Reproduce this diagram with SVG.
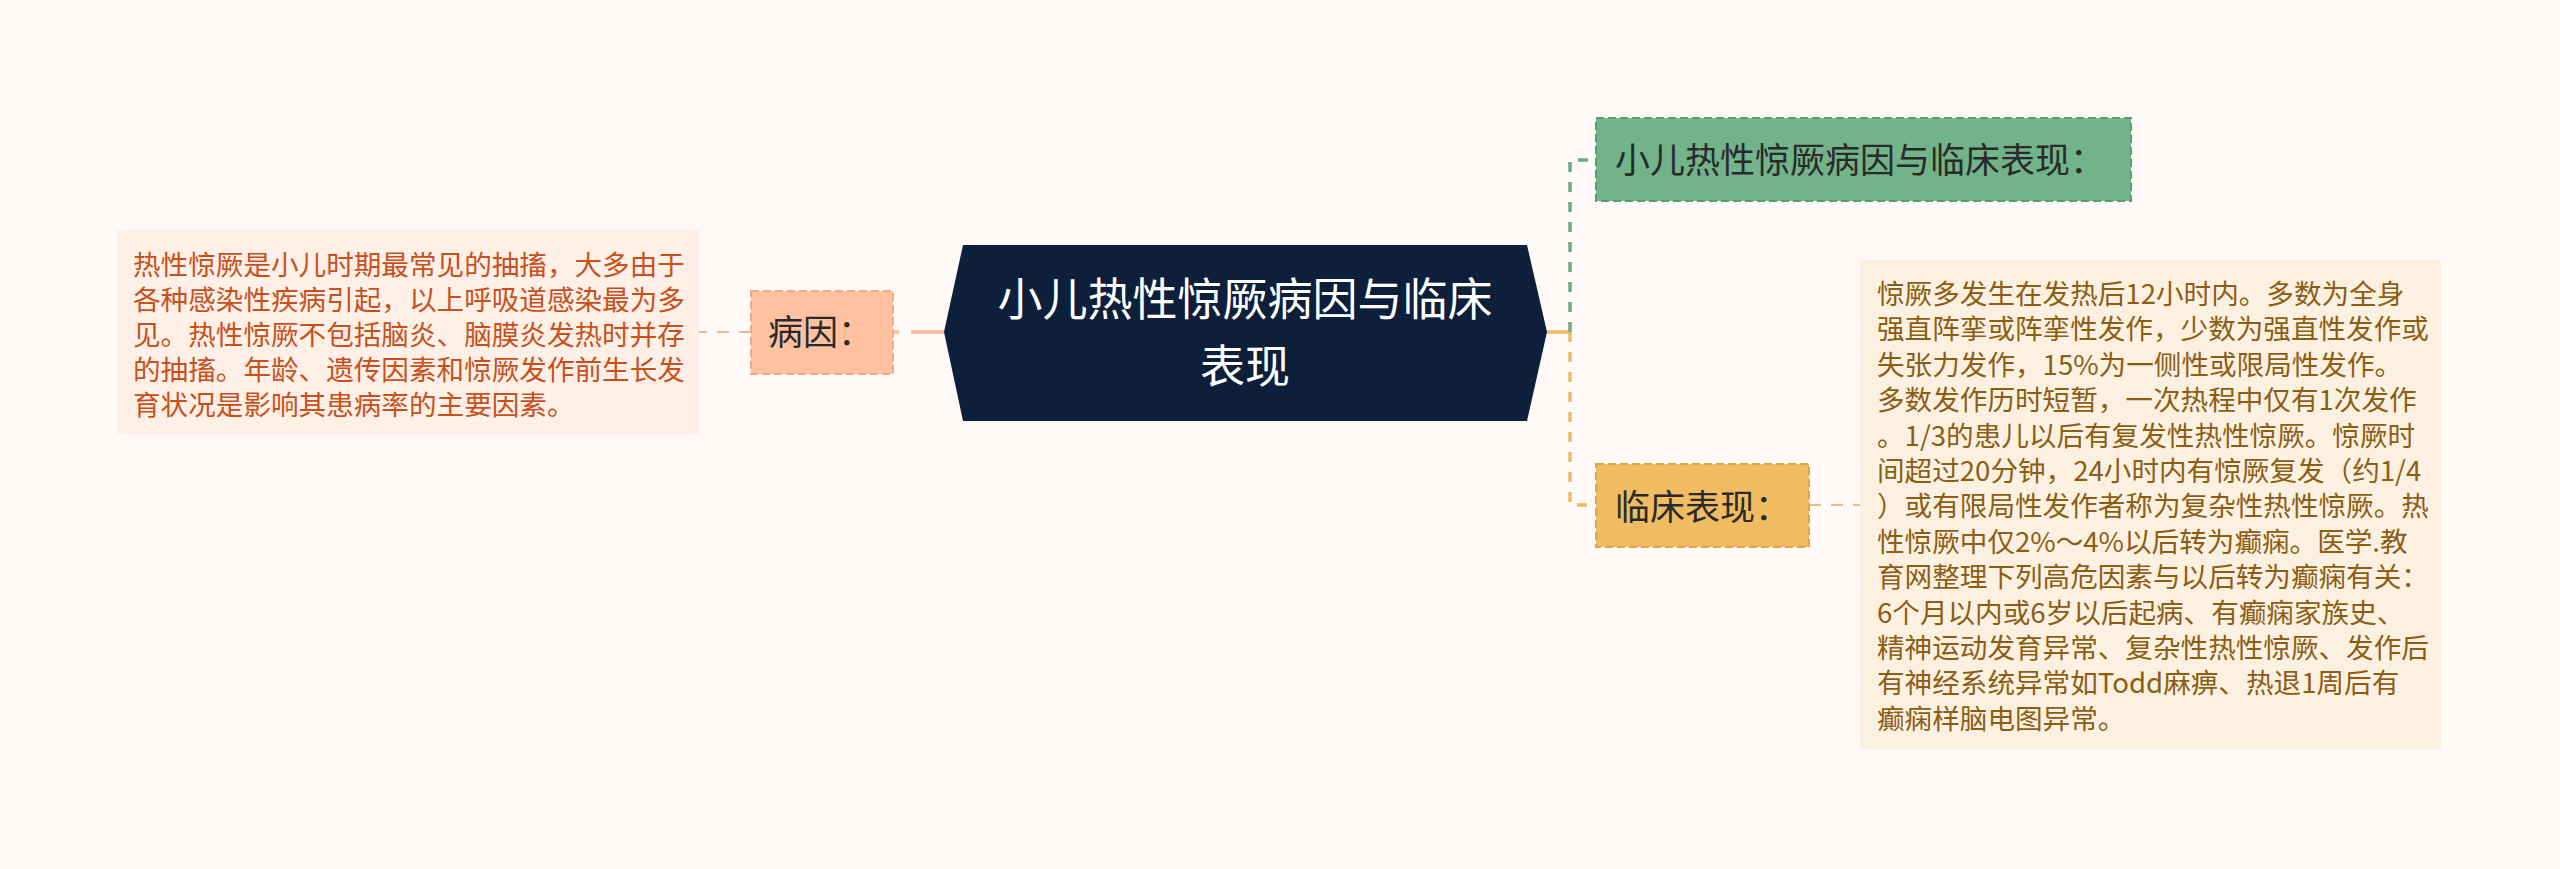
<svg xmlns="http://www.w3.org/2000/svg" width="2560" height="869" viewBox="0 0 2560 869">
<style>
text{font-family:"Noto Sans CJK SC","Noto Sans",sans-serif;}
.t1{font-size:35px;fill:#2a2a2a;}
.tc{font-size:45px;fill:#ffffff;text-anchor:middle;}
.tl{font-size:27.6px;fill:#c9501c;}
.tr{font-size:27.6px;fill:#8c5d13;}
.conn{fill:none;}
</style>
<rect x="0" y="0" width="2560" height="869" fill="#fffaf8"/>
<g id="connectors">
  <path class="conn" d="M944,332 H893" stroke="#f6bb9b" stroke-width="3.5" stroke-dasharray="33 12"/>
  <path class="conn" d="M751,332 H699" stroke="#f2b89e" stroke-width="2" stroke-dasharray="12 10"/>
  <path class="conn" d="M1545,332 H1570" stroke="#efbb62" stroke-width="3.5"/>
  <path class="conn" d="M1570,332 V160 H1596" stroke="#6aab82" stroke-width="3.5" stroke-dasharray="10 10"/>
  <path class="conn" d="M1570,332 V505 H1596" stroke="#efbb62" stroke-width="3.5" stroke-dasharray="10 10"/>
  <path class="conn" d="M1809,505 H1860" stroke="#e6be80" stroke-width="2" stroke-dasharray="12 10"/>
</g>
<g id="center">
  <polygon points="944,332 963,245 1527,245 1547,332 1527,421 963,421" fill="#0d1f3a"/>
  <text class="tc" x="1245" y="316">小儿热性惊厥病因与临床</text>
  <text class="tc" x="1245" y="383">表现</text>
</g>
<g id="cause">
  <rect x="751" y="291" width="142" height="83" fill="#ffc1a0" stroke="#f3a985" stroke-width="2" stroke-dasharray="8 4"/>
  <text class="t1" x="768" y="345">病因：</text>
</g>
<g id="cause-detail">
  <rect x="117" y="230" width="582" height="204" fill="#fef0e7"/>
  <text class="tl" x="133" y="275">热性惊厥是小儿时期最常见的抽搐，大多由于</text>
  <text class="tl" x="133" y="310">各种感染性疾病引起，以上呼吸道感染最为多</text>
  <text class="tl" x="133" y="345">见。热性惊厥不包括脑炎、脑膜炎发热时并存</text>
  <text class="tl" x="133" y="380">的抽搐。年龄、遗传因素和惊厥发作前生长发</text>
  <text class="tl" x="133" y="415">育状况是影响其患病率的主要因素。</text>
</g>
<g id="title-node">
  <rect x="1596" y="118" width="535" height="83" fill="#72b38a" stroke="#5c9c74" stroke-width="2" stroke-dasharray="8 4"/>
  <text class="t1" x="1615" y="173">小儿热性惊厥病因与临床表现：</text>
</g>
<g id="clinical">
  <rect x="1596" y="464" width="213" height="83" fill="#efbc62" stroke="#dea64c" stroke-width="2" stroke-dasharray="8 4"/>
  <text class="t1" x="1615" y="520">临床表现：</text>
</g>
<g id="clinical-detail">
  <rect x="1860" y="260" width="581" height="490" fill="#fcf1e1"/>
  <text class="tr" x="1877" y="304">惊厥多发生在发热后12小时内。多数为全身</text>
  <text class="tr" x="1877" y="339.4">强直阵挛或阵挛性发作，少数为强直性发作或</text>
  <text class="tr" x="1877" y="374.8">失张力发作，15%为一侧性或限局性发作。</text>
  <text class="tr" x="1877" y="410.2">多数发作历时短暂，一次热程中仅有1次发作</text>
  <text class="tr" x="1877" y="445.6">。1/3的患儿以后有复发性热性惊厥。惊厥时</text>
  <text class="tr" x="1877" y="481">间超过20分钟，24小时内有惊厥复发（约1/4</text>
  <text class="tr" x="1877" y="516.4">）或有限局性发作者称为复杂性热性惊厥。热</text>
  <text class="tr" x="1877" y="551.8">性惊厥中仅2%～4%以后转为癫痫。医学.教</text>
  <text class="tr" x="1877" y="587.2">育网整理下列高危因素与以后转为癫痫有关：</text>
  <text class="tr" x="1877" y="622.6">6个月以内或6岁以后起病、有癫痫家族史、</text>
  <text class="tr" x="1877" y="658">精神运动发育异常、复杂性热性惊厥、发作后</text>
  <text class="tr" x="1877" y="693.4">有神经系统异常如Todd麻痹、热退1周后有</text>
  <text class="tr" x="1877" y="728.8">癫痫样脑电图异常。</text>
</g>
</svg>
